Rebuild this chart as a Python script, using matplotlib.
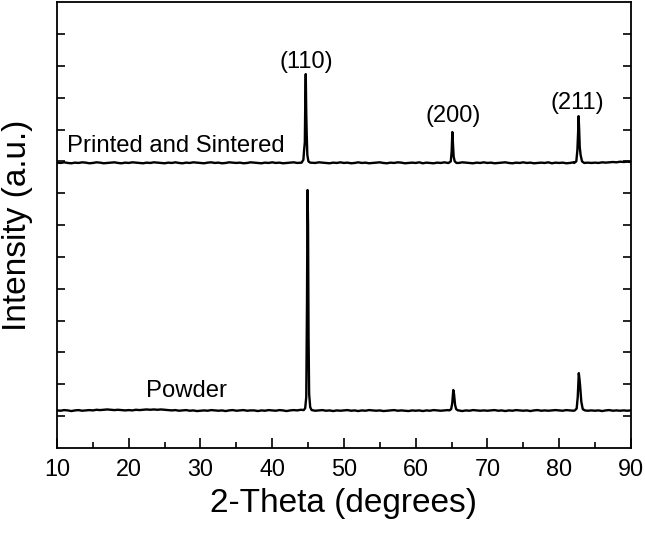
import numpy as np
import matplotlib
matplotlib.use("Agg")
import matplotlib.pyplot as plt

plt.rcParams['font.family'] = ['Liberation Sans', 'DejaVu Sans']

# baseline sampling grid (2-theta, degrees)
grid_x = np.arange(10.0, 90.01, 0.5)

powder_base = [
    1.18,1.17,1.19,1.18,1.16,1.18,1.19,1.17,1.18,1.19,
    1.18,1.20,1.19,1.20,1.21,1.20,1.19,1.20,1.19,1.18,
    1.19,1.18,1.20,1.19,1.20,1.21,1.20,1.21,1.20,1.21,
    1.20,1.19,1.18,1.19,1.17,1.18,1.19,1.17,1.18,1.16,
    1.17,1.18,1.17,1.19,1.18,1.17,1.18,1.16,1.18,1.19,
    1.17,1.18,1.19,1.17,1.18,1.18,1.16,1.18,1.17,1.19,
    1.18,1.17,1.19,1.18,1.16,1.18,1.19,1.18,1.20,1.19,
    1.18,1.19,1.17,1.18,1.19,1.17,1.18,1.16,1.18,1.17,
    1.18,1.19,1.17,1.18,1.16,1.18,1.17,1.19,1.18,1.17,
    1.18,1.16,1.17,1.18,1.19,1.17,1.18,1.17,1.16,1.18,
    1.17,1.18,1.16,1.18,1.17,1.19,1.18,1.17,1.18,1.19,
    1.18,1.17,1.18,1.16,1.18,1.17,1.19,1.18,1.17,1.18,
    1.17,1.18,1.19,1.17,1.18,1.16,1.18,1.17,1.19,1.18,
    1.17,1.18,1.16,1.18,1.19,1.17,1.18,1.17,1.18,1.19,
    1.18,1.17,1.19,1.18,1.17,1.18,1.16,1.18,1.17,1.18,
    1.17,1.18,1.16,1.18,1.19,1.17,1.18,1.17,1.18,1.17,
    1.18,
]

sintered_base = [
    8.96,8.95,8.97,8.95,8.94,8.96,8.95,8.97,8.96,8.94,
    8.95,8.97,8.96,8.94,8.95,8.96,8.97,8.95,8.94,8.96,
    8.95,8.97,8.96,8.95,8.94,8.96,8.95,8.97,8.96,8.95,
    8.94,8.96,8.95,8.97,8.95,8.94,8.96,8.95,8.97,8.96,
    8.95,8.94,8.96,8.97,8.95,8.96,8.94,8.95,8.97,8.96,
    8.95,8.96,8.94,8.95,8.97,8.96,8.95,8.94,8.96,8.95,
    8.97,8.95,8.96,8.94,8.95,8.96,8.97,8.95,8.96,8.95,
    8.96,8.94,8.95,8.97,8.96,8.95,8.94,8.96,8.95,8.97,
    8.95,8.96,8.94,8.95,8.97,8.95,8.96,8.94,8.95,8.96,
    8.97,8.95,8.94,8.96,8.95,8.97,8.96,8.94,8.95,8.96,
    8.95,8.97,8.94,8.96,8.95,8.94,8.96,8.95,8.97,8.95,
    8.96,8.94,8.95,8.97,8.96,8.95,8.94,8.96,8.95,8.97,
    8.95,8.96,8.94,8.95,8.96,8.97,8.95,8.94,8.96,8.95,
    8.97,8.95,8.96,8.94,8.95,8.96,8.95,8.97,8.94,8.96,
    8.95,8.96,8.94,8.95,8.97,8.96,8.95,8.94,8.96,8.95,
    8.96,8.95,8.97,8.96,8.97,8.98,8.97,8.99,8.98,8.99,
    8.98,
]

# peak regions (2-theta, intensity)
powder_peak_x = [44.4, 44.6, 44.75, 44.85, 44.93, 45.0, 45.07, 45.15, 45.3, 45.5,
                 64.7, 64.95, 65.1, 65.25, 65.35, 65.5, 65.65, 65.9,
                 82.2, 82.45, 82.6, 82.75, 82.85, 82.95, 83.1, 83.3, 83.6]
powder_peak_y = [1.19, 1.25, 1.6, 4.5, 8.1, 7.0, 3.5, 1.7, 1.28, 1.19,
                 1.18, 1.22, 1.4, 1.82, 1.7, 1.35, 1.22, 1.18,
                 1.18, 1.24, 1.6, 2.35, 2.15, 1.9, 1.45, 1.22, 1.18]

sintered_peak_x = [44.1, 44.35, 44.45, 44.55, 44.62, 44.68, 44.75, 44.82, 44.9, 45.05, 45.3,
                   64.6, 64.9, 65.02, 65.12, 65.2, 65.3, 65.45, 65.7,
                   82.1, 82.4, 82.55, 82.65, 82.72, 82.8, 82.88, 83.0, 83.2, 83.5]
sintered_peak_y = [8.96, 9.05, 9.35, 9.6, 11.0, 11.74, 10.5, 9.8, 9.2, 9.0, 8.96,
                   8.95, 9.0, 9.3, 9.92, 9.6, 9.15, 9.0, 8.95,
                   8.95, 9.0, 9.35, 9.9, 10.42, 10.0, 9.45, 9.2, 9.0, 8.95]

peak_labels = ["(110)", "(200)", "(211)"]
peak_label_x = [44.76, 65.2, 82.55]
peak_label_y = [11.93, 10.24, 10.66]


def merge(bx, by, px, py):
    bx = np.asarray(bx); by = np.asarray(by)
    px = np.asarray(px); py = np.asarray(py)
    windows = [(44.05, 45.55), (64.55, 65.95), (82.05, 83.65)]
    keep = np.ones(len(bx), bool)
    for a, b in windows:
        keep &= ~((bx >= a) & (bx <= b))
    x = np.concatenate([bx[keep], px])
    y = np.concatenate([by[keep], py])
    o = np.argsort(x)
    return x[o], y[o]


fig = plt.figure(figsize=(6.45, 5.33), dpi=100)
ax = fig.add_axes([0.0884, 0.1595, 0.8896, 0.8365])

xs, ys = merge(grid_x, sintered_base, sintered_peak_x, sintered_peak_y)
ax.plot(xs, ys, color='black', lw=1.7)
xp, yp = merge(grid_x, powder_base, powder_peak_x, powder_peak_y)
ax.plot(xp, yp, color='black', lw=1.7)

for lab, lx, ly in zip(peak_labels, peak_label_x, peak_label_y):
    ax.text(lx, ly, lab, ha='center', va='baseline', fontsize=17)

ax.text(11.45, 9.30, "Printed and Sintered", ha='left', va='baseline', fontsize=17.2)
ax.text(28.1, 1.61, "Powder", ha='center', va='baseline', fontsize=17.2)

ax.set_xlim(10, 90)
ax.set_ylim(0, 14)
ax.set_xticks(np.arange(10, 91, 10))
ax.set_xticks(np.arange(15, 90, 10), minor=True)
ax.set_yticks(np.arange(1, 14, 1))
ax.set_yticklabels([])
ax.tick_params(axis='x', which='major', direction='in', length=7, width=1.2,
               labelsize=16.8, pad=7, top=False)
ax.tick_params(axis='x', which='minor', direction='in', length=4, width=1.2, top=False)
ax.tick_params(axis='y', which='major', direction='in', length=6, width=1.2,
               left=True, right=True)
for s in ax.spines.values():
    s.set_linewidth(1.3)

ax.set_xlabel("2-Theta (degrees)", fontsize=24, labelpad=5)
ax.set_ylabel("Intensity (a.u.)", fontsize=24, labelpad=14)

fig.savefig("out.png", dpi=100)
